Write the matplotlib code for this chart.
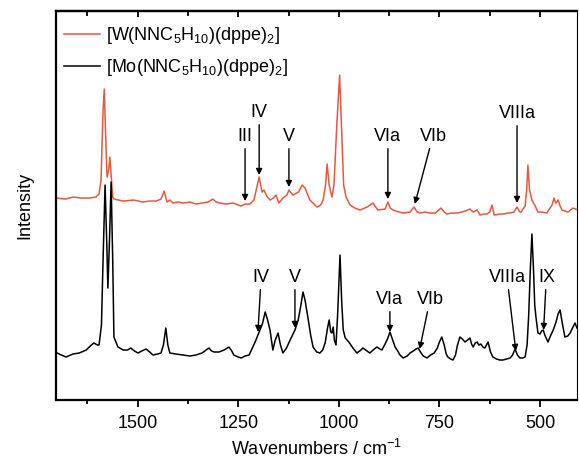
import matplotlib
matplotlib.use('Agg')
import matplotlib.pyplot as plt
from matplotlib.ticker import MultipleLocator, NullLocator

plt.rcParams['font.family'] = 'Liberation Sans'
plt.rcParams['font.size'] = 13
plt.rcParams['mathtext.fontset'] = 'custom'
plt.rcParams['mathtext.rm'] = 'Liberation Sans'
plt.rcParams['mathtext.it'] = 'Liberation Sans:italic'
plt.rcParams['mathtext.default'] = 'regular'

# [W(NNC5H10)(dppe)2] - upper (red) trace
w_wavenumber = [
	1700, 1680, 1660, 1640, 1620, 1604, 1596, 1591, 1586, 1583, 1580, 1576, 1572, 1569, 1565,
	1562, 1559, 1536, 1510, 1487, 1470, 1454, 1442, 1434, 1427, 1420, 1412, 1400, 1387, 1370,
	1355, 1340, 1325, 1313, 1305, 1295, 1280, 1263, 1250, 1243, 1233, 1221, 1211, 1198, 1191,
	1186, 1179, 1171, 1163, 1156, 1149, 1139, 1129, 1124, 1114, 1100, 1091, 1084, 1072, 1054,
	1045, 1039, 1033, 1029, 1024, 1017, 1012, 1005, 998, 993, 988, 982, 972, 960, 947,
	930, 915, 903, 885, 878, 872, 865, 850, 840, 823, 813, 805, 798, 785, 773,
	760, 746, 738, 731, 720, 706, 695, 686, 674, 666, 656, 649, 640, 632, 625,
	619, 614, 600, 592, 580, 574, 565, 557, 550, 547, 537, 533, 530, 526, 520,
	513, 505, 495, 483, 470, 465, 461, 458, 455, 450, 445, 430, 418, 405
]
w_intensity = [
	2.02, 2.01, 2.03, 2.02, 2.02, 2.03, 2.06, 2.20, 2.90, 3.11, 2.70, 2.23, 2.30, 2.43, 2.20,
	2.03, 2.01, 1.99, 2.00, 1.98, 1.99, 1.99, 2.01, 2.09, 1.98, 2.00, 1.97, 1.98, 1.97, 1.98,
	1.96, 1.97, 1.98, 2.01, 1.98, 1.97, 1.96, 1.97, 1.95, 1.94, 1.96, 1.96, 2.00, 2.23, 2.08,
	2.10, 2.04, 2.00, 2.02, 2.05, 1.97, 2.02, 2.05, 2.10, 2.05, 2.08, 2.15, 2.12, 2.00, 1.93,
	1.95, 2.00, 2.15, 2.36, 2.15, 2.03, 2.15, 2.75, 3.25, 2.70, 2.15, 2.03, 1.95, 1.92, 1.90,
	1.93, 1.97, 1.90, 1.91, 1.98, 1.92, 1.90, 1.88, 1.87, 1.88, 1.93, 1.88, 1.87, 1.88, 1.87,
	1.87, 1.92, 1.88, 1.86, 1.87, 1.87, 1.88, 1.89, 1.91, 1.88, 1.90, 1.85, 1.86, 1.86, 1.88,
	1.95, 1.85, 1.86, 1.86, 1.87, 1.87, 1.88, 1.93, 1.88, 1.88, 1.94, 2.10, 2.35, 2.10, 2.00,
	1.95, 1.88, 1.88, 1.87, 1.95, 2.02, 1.97, 1.98, 2.00, 1.94, 1.90, 1.88, 1.92, 1.90
]

# [Mo(NNC5H10)(dppe)2] - lower (black) trace
mo_wavenumber = [
	1700, 1690, 1678, 1661, 1645, 1628, 1615, 1609, 1600, 1596, 1590, 1586, 1581, 1577, 1574,
	1570, 1566, 1562, 1559, 1549, 1536, 1525, 1517, 1508, 1499, 1490, 1479, 1470, 1462, 1450,
	1442, 1436, 1430, 1425, 1420, 1405, 1387, 1370, 1355, 1340, 1323, 1316, 1310, 1298, 1285,
	1273, 1266, 1261, 1250, 1243, 1233, 1223, 1215, 1208, 1203, 1198, 1190, 1183, 1177, 1171,
	1164, 1158, 1151, 1145, 1139, 1130, 1121, 1109, 1101, 1095, 1089, 1084, 1077, 1070, 1064,
	1055, 1047, 1040, 1034, 1028, 1024, 1020, 1017, 1014, 1011, 1007, 1003, 997, 993, 989,
	984, 975, 965, 955, 945, 940, 930, 923, 912, 905, 898, 893, 885, 878, 873,
	866, 860, 855, 848, 840, 830, 823, 815, 808, 803, 797, 790, 781, 772, 763,
	755, 750, 744, 738, 733, 729, 722, 716, 710, 705, 699, 693, 686, 680, 674,
	670, 666, 661, 656, 652, 647, 642, 637, 633, 629, 623, 617, 608, 600, 592,
	583, 574, 568, 562, 556, 550, 543, 537, 532, 528, 524, 520, 516, 513, 510,
	505, 500, 496, 492, 487, 480, 474, 467, 460, 455, 450, 445, 438, 431, 425,
	419, 413, 408
]
mo_intensity = [
	0.47, 0.45, 0.43, 0.46, 0.47, 0.50, 0.55, 0.57, 0.55, 0.55, 0.75, 1.40, 2.15, 1.60, 1.12,
	1.60, 2.18, 1.40, 0.63, 0.53, 0.50, 0.50, 0.52, 0.49, 0.47, 0.49, 0.51, 0.48, 0.45, 0.46,
	0.47, 0.55, 0.72, 0.55, 0.47, 0.46, 0.45, 0.44, 0.45, 0.47, 0.52, 0.49, 0.48, 0.48, 0.50,
	0.53, 0.49, 0.45, 0.43, 0.42, 0.44, 0.45, 0.52, 0.58, 0.63, 0.68, 0.76, 0.88, 0.80, 0.70,
	0.50, 0.60, 0.67, 0.55, 0.47, 0.52, 0.60, 0.70, 0.80, 0.93, 1.08, 1.00, 0.83, 0.65, 0.53,
	0.48, 0.47, 0.50, 0.57, 0.72, 0.80, 0.68, 0.67, 0.73, 0.60, 0.55, 0.85, 1.45, 1.00, 0.70,
	0.62, 0.58, 0.52, 0.47, 0.50, 0.52, 0.49, 0.47, 0.51, 0.53, 0.51, 0.50, 0.56, 0.62, 0.68,
	0.60, 0.53, 0.50, 0.45, 0.42, 0.44, 0.47, 0.49, 0.51, 0.52, 0.48, 0.44, 0.42, 0.45, 0.47,
	0.52, 0.58, 0.63, 0.55, 0.46, 0.43, 0.41, 0.40, 0.45, 0.55, 0.63, 0.61, 0.58, 0.60, 0.62,
	0.56, 0.53, 0.57, 0.58, 0.55, 0.56, 0.53, 0.52, 0.55, 0.58, 0.48, 0.43, 0.41, 0.40, 0.40,
	0.41, 0.42, 0.45, 0.51, 0.45, 0.42, 0.42, 0.43, 0.55, 0.85, 1.30, 1.66, 1.30, 0.95, 0.83,
	0.67, 0.66, 0.69, 0.70, 0.64, 0.58, 0.64, 0.70, 0.78, 0.86, 0.90, 0.78, 0.63, 0.64, 0.67,
	0.72, 0.77, 0.72
]

W_LABEL = '[W(NNC$_5$H$_{10}$)(dppe)$_2$]'
MO_LABEL = '[Mo(NNC$_5$H$_{10}$)(dppe)$_2$]'
RED = '#e9573f'

fig = plt.figure(figsize=(5.79, 4.62), dpi=100)
ax = fig.add_axes([0.0967, 0.1342, 0.8998, 0.8418])

ax.plot(w_wavenumber, w_intensity, color=RED, lw=1.1, label=W_LABEL)
ax.plot(mo_wavenumber, mo_intensity, color='black', lw=1.1, label=MO_LABEL)

ax.set_xlim(1703, 408)
ax.set_ylim(0, 3.89)

arrow = dict(arrowstyle='-|>', color='black', lw=1.0, mutation_scale=9, shrinkA=1, shrinkB=0)

# upper trace bands
ax.annotate('III', xy=(1233, 1.99), xytext=(1233, 2.64), ha='center', va='center', arrowprops=arrow)
ax.annotate('IV', xy=(1198, 2.25), xytext=(1198, 2.88), ha='center', va='center', arrowprops=arrow)
ax.annotate('V', xy=(1124, 2.13), xytext=(1124, 2.64), ha='center', va='center', arrowprops=arrow)
ax.annotate('VIa', xy=(878, 2.01), xytext=(878, 2.64), ha='center', va='center', arrowprops=arrow)
ax.annotate('VIb', xy=(811, 1.96), xytext=(766, 2.64), ha='center', va='center', arrowprops=arrow)
ax.annotate('VIIIa', xy=(557, 1.97), xytext=(557, 2.87), ha='center', va='center', arrowprops=arrow)

# lower trace bands
ax.annotate('IV', xy=(1201, 0.68), xytext=(1193, 1.23), ha='center', va='center', arrowprops=arrow)
ax.annotate('V', xy=(1109, 0.72), xytext=(1109, 1.23), ha='center', va='center', arrowprops=arrow)
ax.annotate('VIa', xy=(873, 0.68), xytext=(873, 1.01), ha='center', va='center', arrowprops=arrow)
ax.annotate('VIb', xy=(799, 0.51), xytext=(773, 1.01), ha='center', va='center', arrowprops=arrow)
ax.annotate('VIIIa', xy=(560, 0.49), xytext=(582, 1.23), ha='center', va='center', arrowprops=arrow)
ax.annotate('IX', xy=(491, 0.70), xytext=(484, 1.23), ha='center', va='center', arrowprops=arrow)

ax.xaxis.set_major_locator(MultipleLocator(250))
ax.xaxis.set_minor_locator(MultipleLocator(125))
ax.yaxis.set_major_locator(NullLocator())
ax.tick_params(axis='x', which='major', direction='out', length=5, width=1.3, pad=6)
ax.tick_params(axis='x', which='minor', direction='out', length=3, width=1.3)

top = ax.secondary_xaxis('top')
top.xaxis.set_major_locator(MultipleLocator(250))
top.xaxis.set_minor_locator(MultipleLocator(125))
top.tick_params(axis='x', which='major', direction='in', length=4.5, width=1.3, labeltop=False)
top.tick_params(axis='x', which='minor', direction='in', length=3.5, width=1.3)
top.spines['top'].set_linewidth(1.6)

for side in ['left', 'bottom', 'top']:
	ax.spines[side].set_linewidth(1.6)
ax.spines['right'].set_linewidth(0.8)

ax.set_xlabel('Wavenumbers / cm$^{-1}$', labelpad=5)
ax.set_ylabel('Intensity', labelpad=16)

ax.legend(loc='upper left', frameon=False, fontsize=13, handlelength=2.0, handletextpad=0.3,
	labelspacing=0.6, borderaxespad=0.15, borderpad=0.3, bbox_to_anchor=(0.0, 0.985))

fig.savefig('out.png', dpi=100)
